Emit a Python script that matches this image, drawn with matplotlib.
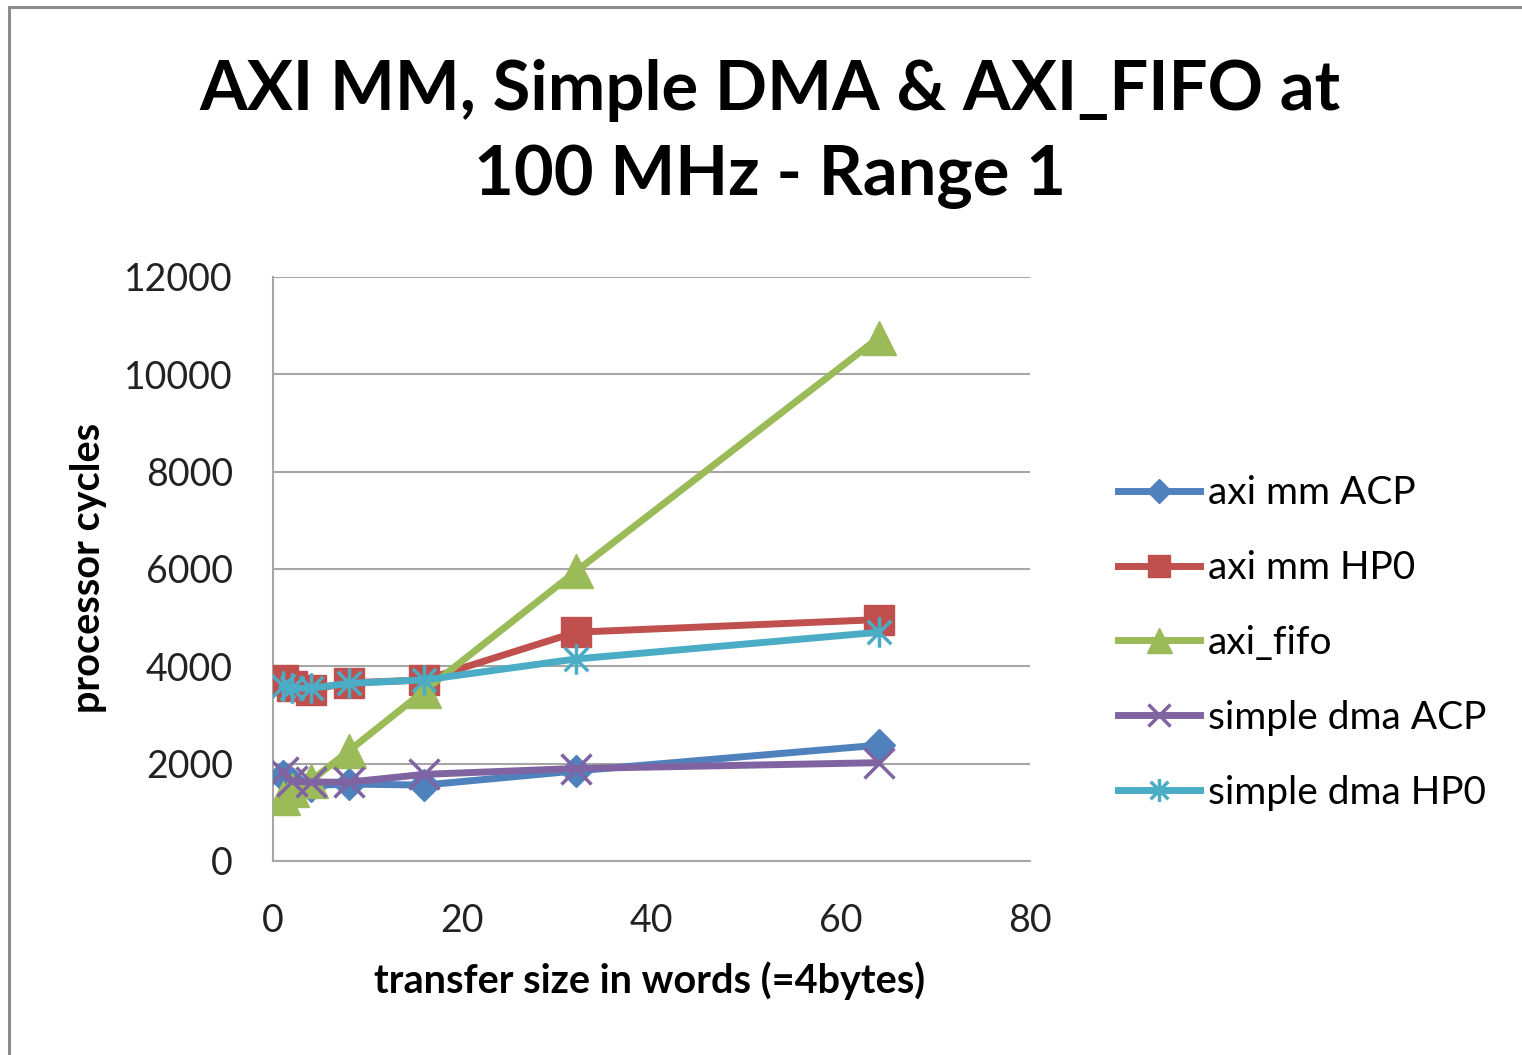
import matplotlib
matplotlib.use("Agg")
import matplotlib.pyplot as plt
from matplotlib.patches import Rectangle
from matplotlib.path import Path

plt.rcParams['font.family'] = ['Lato', 'DejaVu Sans']

# transfer sizes (words) and measured cycle counts
sizes = [1, 2, 4, 8, 16, 32, 64]
axi_mm_acp = [1750, 1600, 1550, 1580, 1560, 1850, 2380]
axi_mm_hp0 = [3720, 3600, 3520, 3660, 3720, 4700, 4960]
axi_fifo = [1300, 1450, 1650, 2260, 3500, 5950, 10750]
simple_dma_acp = [1820, 1640, 1620, 1620, 1780, 1900, 2020]
simple_dma_hp0 = [3600, 3550, 3550, 3650, 3720, 4150, 4700]

labels = ['axi mm ACP', 'axi mm HP0', 'axi_fifo',
          'simple dma ACP', 'simple dma HP0']

# excel-style asterisk: an x with a vertical stroke
asterisk = Path([(-1, -1), (1, 1), (-1, 1), (1, -1), (0, -1.3), (0, 1.3)],
                [Path.MOVETO, Path.LINETO, Path.MOVETO, Path.LINETO,
                 Path.MOVETO, Path.LINETO])

fig = plt.figure(figsize=(15.22, 10.55), dpi=100)
ax = fig.add_axes([0.1794, 0.1839, 0.4974, 0.5536])

lw = 5
ax.plot(sizes, axi_mm_acp, color='#4F81BD', lw=lw, marker='D', ms=16,
        label=labels[0], zorder=3)
ax.plot(sizes, axi_mm_hp0, color='#C0504D', lw=lw, marker='s', ms=22,
        label=labels[1], zorder=3)
ax.plot(sizes, axi_fifo, color='#9BBB59', lw=lw, marker='^', ms=24,
        label=labels[2], zorder=3)
ax.plot(sizes, simple_dma_acp, color='#8064A2', lw=lw, marker='x', ms=22,
        mew=2.5, label=labels[3], zorder=3)
ax.plot(sizes, simple_dma_hp0, color='#4BACC6', lw=lw, marker=asterisk,
        ms=22, mew=2.5, label=labels[4], zorder=3)

ax.set_xlim(0, 80)
ax.set_ylim(0, 12000)
ax.set_xticks(range(0, 81, 20))
ax.set_yticks(range(0, 12001, 2000))
ax.tick_params(length=0, labelsize=27, colors='#222222')
ax.tick_params(axis='y', pad=29)
ax.tick_params(axis='x', pad=30)
ax.yaxis.grid(True, color='#A6A6A6', lw=1.5)
ax.set_axisbelow(True)
for side in ['top', 'right']:
    ax.spines[side].set_visible(False)
for side in ['left', 'bottom']:
    ax.spines[side].set_color('#A6A6A6')
    ax.spines[side].set_linewidth(1.5)

ax.set_xlabel('transfer size in words (=4bytes)', fontsize=28.5,
              fontweight='bold')
ax.xaxis.set_label_coords(0.498, -0.172)
ax.set_ylabel('processor cycles', fontsize=28.5, fontweight='bold')
ax.yaxis.set_label_coords(-0.219, 0.502)

fig.text(0.506, 0.873, 'AXI MM, Simple DMA & AXI_FIFO at\n100 MHz - Range 1',
         ha='center', va='center', fontsize=49.5, fontweight='bold',
         linespacing=1.45)

ax.legend(loc='center left', bbox_to_anchor=(0.7346, 0.3905),
          bbox_transform=fig.transFigure, frameon=False, fontsize=28,
          handlelength=2.1, handletextpad=0.2, labelspacing=1.0,
          borderpad=0, borderaxespad=0, markerscale=0.75)

# chart area frame
fig.add_artist(Rectangle((0.006, -0.05), 1.1, 0.9929 + 0.05,
                         transform=fig.transFigure, fill=False,
                         edgecolor='#8C8C8C', lw=2.2))

fig.savefig('out.png', dpi=100)
